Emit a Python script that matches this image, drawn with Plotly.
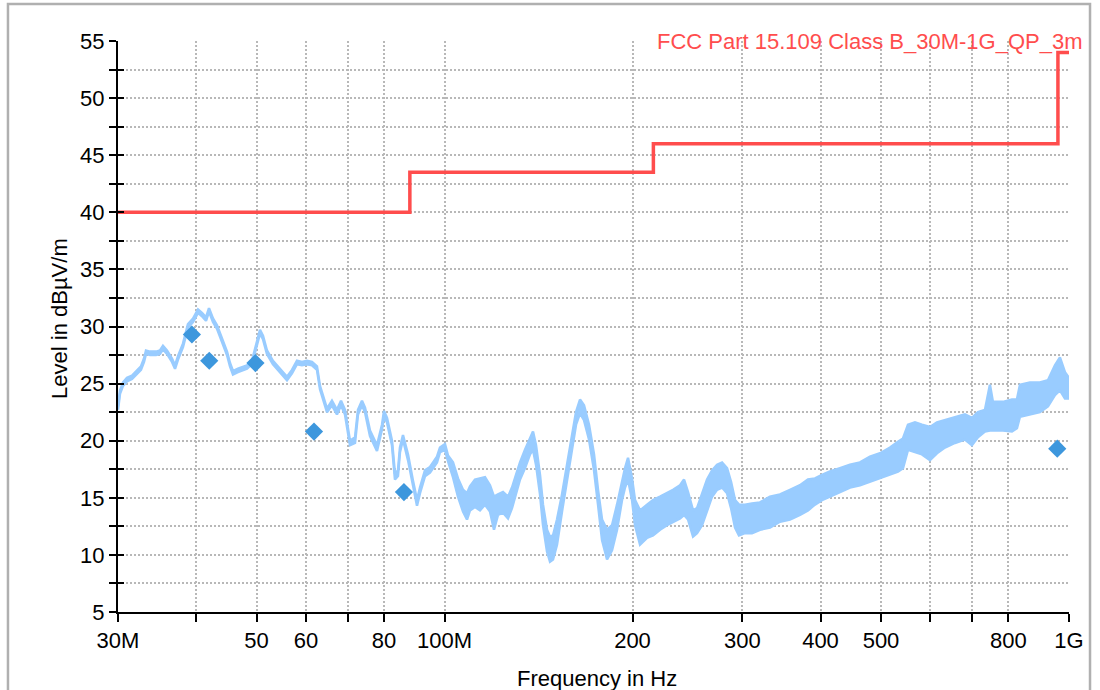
import plotly.graph_objects as go

# Spectrum scan (peak detector), upper and lower edge of the trace, MHz / dBuV/m
freq_mhz = [
    30.0, 30.22, 30.56, 31.01, 31.59, 32.18, 32.65, 33.02, 33.26, 33.76,
    34.51, 35.02, 35.41, 35.94, 36.61, 37.02, 37.43, 38.12, 38.83, 39.56,
    40.29, 40.89, 41.50, 41.96, 42.58, 43.22, 44.02, 44.84, 45.34, 45.84,
    46.69, 48.27, 49.16, 50.08, 50.64, 51.20, 51.96, 53.12, 54.51, 55.94,
    56.98, 58.04, 59.12, 60.22, 61.34, 62.48, 63.18, 63.88, 64.83, 66.03,
    67.26, 68.27, 69.28, 70.57, 71.89, 72.68, 73.76, 74.59, 75.97, 77.96,
    79.41, 80.00, 80.89, 82.39, 83.30, 84.23, 84.85, 85.80, 87.40, 89.02,
    90.35, 91.35, 93.05, 94.78, 97.26, 98.34, 100.17, 101.29, 103.17, 105.09,
    107.05, 108.64, 109.84, 111.89, 113.97, 116.09, 118.25, 120.01, 121.79, 124.06,
    126.37, 128.25, 130.16, 132.09, 134.55, 137.05, 138.58, 140.12, 142.20, 143.78,
    145.92, 147.54, 149.18, 151.40, 154.22, 157.09, 160.01, 162.39, 164.80, 167.25,
    170.37, 173.54, 176.12, 178.74, 182.07, 185.45, 188.90, 192.42, 194.56, 196.72,
    199.65, 201.87, 205.63, 211.00, 215.72, 221.37, 227.15, 232.23, 238.30, 241.84,
    245.44, 250.01, 253.72, 258.45, 263.26, 268.16, 273.15, 278.23, 283.40, 287.61,
    291.89, 296.15, 302.78, 310.69, 320.00, 332.00, 344.48, 357.42, 370.85, 381.96,
    391.96, 402.20, 414.23, 429.80, 445.95, 462.70, 480.09, 498.13, 516.85, 532.25,
    542.18, 552.27, 566.71, 581.51, 598.89, 614.54, 632.93, 656.65, 681.26, 699.09,
    714.75, 733.45, 747.11, 755.42, 783.80, 810.26, 825.33, 834.53, 865.87, 898.39,
    925.29, 949.49, 967.16, 985.16, 1000.0,
]
level_upper = [
    23.0, 24.4, 25.1, 25.5, 25.7, 26.1, 26.5, 27.2, 27.9, 27.8,
    27.8, 27.9, 28.3, 27.9, 27.2, 26.6, 27.4, 28.5, 30.2, 30.7,
    31.5, 31.2, 30.8, 31.6, 30.7, 30.1, 29.0, 27.8, 26.8, 26.1,
    26.3, 26.6, 27.0, 28.7, 29.7, 29.2, 27.9, 27.0, 26.3, 25.6,
    26.2, 27.0, 26.9, 27.0, 26.9, 26.5, 24.8, 23.9, 22.8, 23.5,
    22.7, 23.5, 22.7, 20.0, 20.3, 22.7, 23.5, 22.9, 20.9, 19.6,
    21.4, 22.6, 22.0, 20.0, 17.1, 17.4, 19.4, 20.5, 18.8, 16.5,
    14.8, 15.9, 17.4, 17.7, 18.6, 19.4, 19.7, 18.7, 18.1, 16.7,
    15.7, 15.4, 16.0, 16.6, 16.7, 16.8, 16.1, 15.1, 15.3, 15.5,
    15.1, 15.9, 17.0, 18.1, 19.2, 20.3, 20.8, 19.6, 17.0, 14.4,
    12.2, 11.6, 11.7, 13.1, 15.3, 17.9, 20.5, 22.5, 23.6, 23.1,
    21.4, 18.8, 15.7, 13.1, 12.2, 12.6, 14.4, 16.6, 17.6, 18.5,
    16.7, 14.8, 13.9, 14.4, 14.8, 15.1, 15.4, 15.7, 16.1, 16.6,
    15.5, 13.9, 14.1, 15.3, 16.6, 17.4, 17.9, 18.1, 17.6, 16.4,
    14.8, 14.4, 14.4, 14.5, 14.6, 15.1, 15.3, 15.7, 16.1, 16.6,
    16.7, 17.0, 17.3, 17.6, 17.9, 18.1, 18.6, 18.9, 19.4, 19.9,
    20.2, 21.4, 21.6, 21.4, 21.2, 21.6, 21.8, 22.1, 22.3, 22.0,
    22.5, 22.7, 24.9, 23.4, 23.4, 23.6, 23.6, 24.9, 25.1, 25.1,
    25.3, 26.6, 27.3, 26.0, 25.5,
]
level_lower = [
    22.7, 24.1, 24.8, 25.2, 25.4, 25.8, 26.2, 26.9, 27.6, 27.5,
    27.5, 27.6, 28.0, 27.6, 26.9, 26.3, 27.1, 28.2, 29.9, 30.4,
    31.2, 30.9, 30.5, 31.3, 30.4, 29.8, 28.7, 27.5, 26.5, 25.8,
    26.0, 26.3, 26.7, 28.4, 29.4, 28.9, 27.6, 26.7, 26.0, 25.3,
    25.9, 26.7, 26.6, 26.7, 26.6, 26.2, 24.5, 23.6, 22.5, 23.1,
    22.3, 23.1, 22.3, 19.6, 19.8, 22.3, 23.1, 22.5, 20.4, 19.1,
    21.0, 22.1, 21.6, 19.6, 16.6, 16.9, 19.0, 20.1, 18.3, 16.1,
    14.3, 15.4, 16.9, 17.2, 18.1, 19.0, 19.2, 18.2, 16.8, 15.1,
    13.8, 13.1, 13.9, 14.2, 13.9, 14.4, 13.8, 12.2, 13.5, 13.7,
    13.2, 14.1, 15.3, 16.6, 17.6, 18.8, 19.2, 17.9, 15.3, 12.6,
    10.3, 9.4, 9.6, 10.9, 13.8, 16.6, 19.2, 21.4, 22.4, 21.8,
    20.1, 17.4, 14.4, 11.3, 9.6, 10.4, 12.2, 14.8, 15.9, 16.6,
    14.8, 12.6, 10.9, 11.5, 11.7, 12.2, 12.6, 12.9, 13.2, 13.5,
    13.1, 11.6, 11.9, 12.6, 13.9, 15.1, 15.7, 15.9, 15.4, 14.1,
    12.4, 11.7, 11.9, 11.9, 12.2, 12.4, 12.9, 13.1, 13.5, 13.9,
    14.4, 14.8, 15.1, 15.5, 15.9, 16.1, 16.4, 16.7, 17.0, 17.3,
    17.6, 19.2, 19.0, 18.8, 18.3, 18.9, 19.4, 19.8, 20.1, 19.6,
    20.3, 20.8, 20.9, 20.9, 20.9, 20.8, 21.1, 22.1, 22.3, 22.5,
    23.0, 24.0, 24.4, 23.7, 23.7,
]

# Quasi-peak final measurements
qp_freq_mhz = [39.4, 42.0, 49.8, 61.8, 86.1, 957.6]
qp_level = [29.3, 27.0, 26.8, 20.8, 15.5, 19.3]

# FCC Part 15.109 Class B limit (3 m), step edges
limit_freq_mhz = [30, 88, 216, 960, 1000]
limit_level = [40.0, 43.5, 46.0, 54.0, 54.0]
limit_name = "FCC Part 15.109 Class B_30M-1G_QP_3m"

x_tick_vals = [30, 40, 50, 60, 70, 80, 100, 200, 300, 400, 500, 600, 700, 800, 1000]
x_tick_text = ["30M", "", "50", "60", "", "80", "100M", "200", "300", "400", "500", "", "", "800", "1G"]
y_tick_vals = [5 + 2.5 * i for i in range(21)]
y_tick_text = [str(int(v)) if v % 5 == 0 else "" for v in y_tick_vals]

FONT = "Liberation Sans, Arial, sans-serif"
TRACE_BLUE = "#99ccff"
QP_BLUE = "#3d97dd"
LIMIT_RED = "#ff4d4d"
GRID = "#b8b8b8"

fig = go.Figure()

fig.add_trace(go.Scatter(
    x=freq_mhz, y=level_lower, mode="lines",
    line=dict(color=TRACE_BLUE, width=2.5), hoverinfo="skip", showlegend=False,
))
fig.add_trace(go.Scatter(
    x=freq_mhz, y=level_upper, mode="lines", fill="tonexty", fillcolor=TRACE_BLUE,
    line=dict(color=TRACE_BLUE, width=2.5), showlegend=False,
))
fig.add_trace(go.Scatter(
    x=limit_freq_mhz, y=limit_level, mode="lines", yaxis="y2",
    line=dict(color=LIMIT_RED, width=3.5, shape="hv"), showlegend=False,
))
fig.add_trace(go.Scatter(
    x=qp_freq_mhz, y=qp_level, mode="markers",
    marker=dict(symbol="diamond", size=14, color=QP_BLUE, line=dict(width=0)),
    showlegend=False,
))

axis_font = dict(family=FONT, size=22, color="black")
title_font = dict(family=FONT, size=22, color="black")

fig.update_layout(
    width=1100, height=690,
    margin=dict(l=118, r=31, t=41, b=78),
    paper_bgcolor="white", plot_bgcolor="white",
    font=axis_font,
    xaxis=dict(
        type="log", range=[1.47712, 3.0],
        tickvals=x_tick_vals, ticktext=x_tick_text,
        ticks="outside", ticklen=8, tickwidth=2, tickcolor="black",
        showline=True, linecolor="black", linewidth=2,
        showgrid=True, gridcolor=GRID, gridwidth=1.5, griddash="2px,2px",
        zeroline=False, automargin=False, tickfont=axis_font,
    ),
    yaxis=dict(
        range=[5, 55], tickvals=y_tick_vals, ticktext=y_tick_text,
        ticks="outside", ticklen=7, tickwidth=2, tickcolor="black",
        showline=True, linecolor="black", linewidth=2,
        showgrid=True, gridcolor=GRID, gridwidth=1.5, griddash="2px,2px",
        zeroline=False, automargin=False, tickfont=axis_font,
    ),
    yaxis2=dict(
        overlaying="y", side="left", anchor="x", range=[5, 55],
        tickvals=y_tick_vals, ticks="inside", ticklen=6, tickwidth=2, tickcolor="black",
        showticklabels=False, showgrid=False, showline=False, zeroline=False,
    ),
    annotations=[
        dict(text="Level in dBµV/m", xref="paper", yref="paper",
             x=-0.061, y=0.515, textangle=-90, showarrow=False,
             xanchor="center", yanchor="middle", font=title_font),
        dict(text="Frequency in Hz", xref="paper", yref="paper",
             x=0.5037, y=-0.1156, showarrow=False,
             xanchor="center", yanchor="middle", font=title_font),
        dict(text=limit_name, xref="paper", yref="paper",
             x=1.0168, y=1.0, showarrow=False,
             xanchor="right", yanchor="middle",
             font=dict(family=FONT, size=22, color=LIMIT_RED)),
    ],
    shapes=[
        dict(type="rect", xref="paper", yref="paper",
             x0=-0.1157, x1=1.0221, y0=-0.16, y1=1.0648,
             line=dict(color="#b0b0b0", width=2.5), fillcolor="rgba(0,0,0,0)", layer="below"),
    ],
)

fig.write_html("out.html")
